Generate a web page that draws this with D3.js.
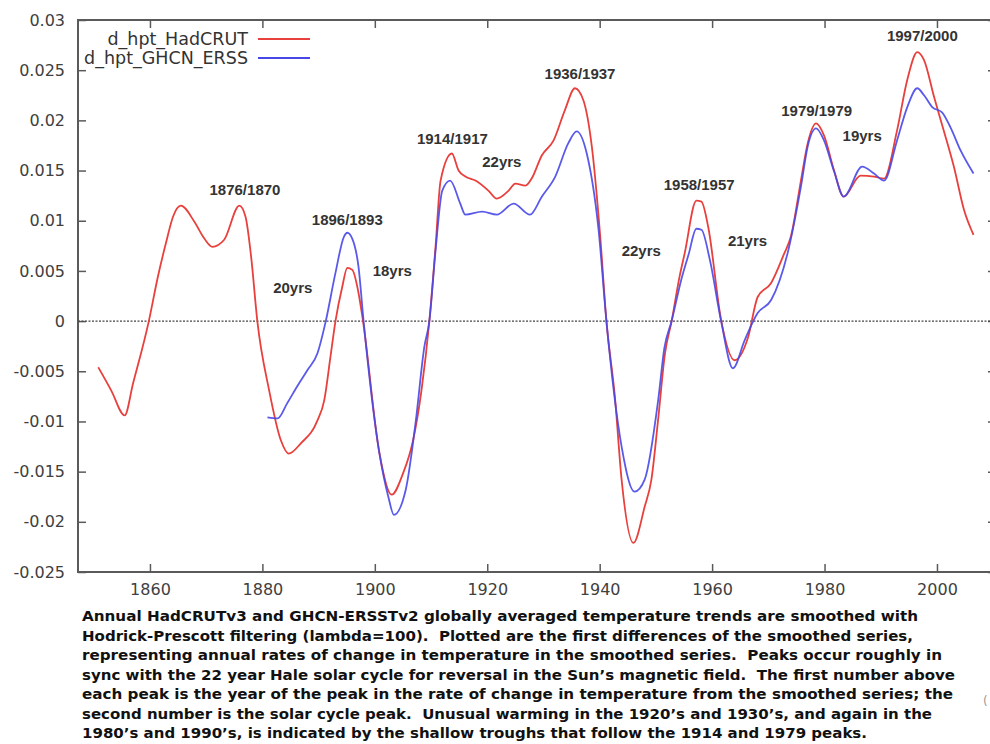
<!DOCTYPE html>
<html>
<head>
<meta charset="utf-8">
<script src="https://cdn.jsdelivr.net/npm/d3@7"></script>
<style>
  body { margin: 0; background: #fff; }
  svg { display: block; }
</style>
</head>
<body>
<div id="chart"></div>
<script>
// HadCRUT (red) - years and first-difference values
var hadYears = [1850.8, 1853.1, 1855.5, 1857.0, 1859.8, 1861.4, 1862.9, 1864.1, 1865.5, 1867.9, 1869.7, 1871.1,
  1873.2, 1875.9, 1877.0, 1878.0, 1879.1, 1881.2, 1883.3, 1884.7, 1886.8, 1889.8, 1891.0, 1892.1, 1893.0,
  1894.2, 1895.1, 1896.0, 1897.0, 1897.9, 1900.8, 1903.0, 1905.0, 1906.8, 1908.3, 1909.7, 1910.8, 1911.7,
  1913.7, 1914.9, 1916.1, 1917.9, 1920.2, 1921.7, 1923.8, 1925.0, 1926.8, 1927.9, 1929.7, 1931.8, 1933.8,
  1935.6, 1937.1, 1938.6, 1940.1, 1941.2, 1942.7, 1943.9, 1946.0, 1948.0, 1949.2, 1950.4, 1951.6, 1952.8,
  1954.2, 1955.1, 1957.2, 1958.1, 1959.3, 1961.6, 1964.0, 1966.4, 1968.1, 1970.5, 1972.8, 1974.0, 1975.8,
  1977.0, 1978.5, 1979.9, 1981.7, 1983.4, 1986.4, 1988.8, 1990.6, 1992.9, 1994.7, 1996.5, 1997.7, 1999.5,
  2001.2, 2003.0, 2004.8, 2006.5];
var hadValues = [-0.0046, -0.0069, -0.0094, -0.0062, 0.0, 0.0044, 0.0079, 0.0104, 0.0115, 0.0099, 0.0082, 0.0074,
  0.0081, 0.0115, 0.0104, 0.0064, 0.0, -0.0069, -0.0119, -0.0132, -0.0122, -0.0099, -0.0079, -0.0036, 0.0,
  0.0034, 0.0053, 0.0051, 0.0031, 0.0, -0.0131, -0.0173, -0.0152, -0.0119, -0.0069, 0.0, 0.0074, 0.0140,
  0.0167, 0.0150, 0.0144, 0.0140, 0.0130, 0.0122, 0.0130, 0.0137, 0.0135, 0.0142, 0.0165, 0.0180, 0.0210,
  0.0232, 0.0220, 0.0174, 0.0084, 0.0, -0.0075, -0.0158, -0.0221, -0.0185, -0.0158, -0.0098, -0.0033, 0.0,
  0.0044, 0.0067, 0.0120, 0.0119, 0.0094, 0.0001, -0.0039, -0.0016, 0.0024, 0.0038, 0.0067, 0.0084, 0.0140,
  0.0177, 0.0197, 0.0185, 0.0150, 0.0124, 0.0145, 0.0144, 0.0142, 0.0190, 0.0240, 0.0268, 0.0260, 0.0223,
  0.0190, 0.0154, 0.0111, 0.0086];

// GHCN-ERSST (blue)
var ghcnYears = [1880.9, 1882.7, 1884.4, 1886.2, 1888.0, 1889.8, 1891.2, 1893.0, 1894.5, 1895.1, 1896.0, 1897.1,
  1898.0, 1900.8, 1902.4, 1903.4, 1905.5, 1907.3, 1908.8, 1909.7, 1910.8, 1912.0, 1913.4, 1915.2, 1916.1,
  1919.1, 1921.7, 1924.7, 1927.6, 1929.7, 1932.1, 1934.4, 1935.9, 1937.7, 1939.8, 1941.2, 1943.9, 1946.2,
  1948.0, 1950.4, 1951.5, 1952.8, 1954.5, 1955.8, 1957.2, 1958.1, 1959.6, 1961.6, 1963.7, 1965.8, 1968.1,
  1970.5, 1973.4, 1975.8, 1977.0, 1978.5, 1979.9, 1981.7, 1983.4, 1986.7, 1988.8, 1990.6, 1992.9, 1994.7,
  1996.5, 1997.7, 1999.2, 2000.9, 2002.4, 2004.2, 2006.5];
var ghcnValues = [-0.0096, -0.0097, -0.0082, -0.0065, -0.0049, -0.0032, -0.0002, 0.0048, 0.0084, 0.0088, 0.0082, 0.0054,
  0.0, -0.0131, -0.0175, -0.0193, -0.0168, -0.0099, -0.0026, 0.0, 0.0070, 0.0130, 0.0140, 0.0117, 0.0106,
  0.0109, 0.0106, 0.0117, 0.0106, 0.0124, 0.0144, 0.0177, 0.0189, 0.0167, 0.0091, 0.0, -0.0125, -0.0170,
  -0.0158, -0.0079, -0.0027, 0.0, 0.0041, 0.0066, 0.0092, 0.0091, 0.0061, 0.0, -0.0047, -0.0019, 0.0008,
  0.0021, 0.0067, 0.0134, 0.0174, 0.0192, 0.0180, 0.0149, 0.0124, 0.0154, 0.0147, 0.0140, 0.0180, 0.0213,
  0.0232, 0.0225, 0.0213, 0.0208, 0.0193, 0.0170, 0.0147];

// peak / interval annotations (text, year, value)
var noteTexts = ['1876/1870', '1896/1893', '20yrs', '18yrs', '1914/1917', '22yrs', '1936/1937',
  '22yrs', '1958/1957', '21yrs', '1979/1979', '19yrs', '1997/2000'];
var noteYears = [1876.9, 1895.1, 1885.4, 1903.1, 1913.8, 1922.6, 1936.5, 1947.4, 1957.7, 1966.3, 1978.6, 1986.7, 1997.4];
var noteValues = [0.01256, 0.00957, 0.0028, 0.00449, 0.01764, 0.01535, 0.02412, 0.00648, 0.01306, 0.00748, 0.02043, 0.01794, 0.02791];

var xTicks = [1860, 1880, 1900, 1920, 1940, 1960, 1980, 2000];
var yTicks = [-0.025, -0.02, -0.015, -0.01, -0.005, 0, 0.005, 0.01, 0.015, 0.02, 0.025, 0.03];

var seriesNames = ['d_hpt_HadCRUT', 'd_hpt_GHCN_ERSS'];

var caption = [
  'Annual HadCRUTv3 and GHCN-ERSSTv2 globally averaged temperature trends are smoothed with',
  'Hodrick-Prescott filtering (lambda=100).  Plotted are the first differences of the smoothed series,',
  'representing annual rates of change in temperature in the smoothed series.  Peaks occur roughly in',
  'sync with the 22 year Hale solar cycle for reversal in the Sun\u2019s magnetic field.  The first number above',
  'each peak is the year of the peak in the rate of change in temperature from the smoothed series; the',
  'second number is the solar cycle peak.  Unusual warming in the 1920\u2019s and 1930\u2019s, and again in the',
  '1980\u2019s and 1990\u2019s, is indicated by the shallow troughs that follow the 1914 and 1979 peaks.'
];
var captionWidths = [836, 831, 860, 873, 871, 850, 785];

// layout
var svgWidth = 990;
var svgHeight = 744;
var plot = { left: 78, right: 996, top: 20, bottom: 572 };

var redColor = '#e8403c';
var blueColor = '#4848e8';
var frameColor = '#5a5a5a';
var textColor = '#404040';

var svg = d3.select('#chart').append('svg')
  .attr('width', svgWidth)
  .attr('height', svgHeight);

var x = d3.scaleLinear().domain([1847.2, 2010.5]).range([plot.left, plot.right]);
var y = d3.scaleLinear().domain([-0.025, 0.03]).range([plot.bottom, plot.top]);

var yFormat = function (d) { return d === 0 ? '0' : String(+d.toFixed(3)); };

// left axis (labels + inward ticks)
var leftAxis = svg.append('g')
  .attr('transform', `translate(${plot.left},0)`)
  .call(d3.axisLeft(y).tickValues(yTicks).tickSize(-8).tickPadding(13).tickFormat(yFormat));

// right axis (ticks only)
var rightAxis = svg.append('g')
  .attr('transform', `translate(${plot.right},0)`)
  .call(d3.axisRight(y).tickValues(yTicks).tickSize(-8).tickFormat(''));

// bottom axis
var bottomAxis = svg.append('g')
  .attr('transform', `translate(0,${plot.bottom})`)
  .call(d3.axisBottom(x).tickValues(xTicks).tickSize(-8).tickPadding(12).tickFormat(d3.format('d')));

// top axis (ticks only)
var topAxis = svg.append('g')
  .attr('transform', `translate(0,${plot.top})`)
  .call(d3.axisTop(x).tickValues(xTicks).tickSize(-8).tickFormat(''));

svg.selectAll('.domain').remove();
svg.selectAll('.tick line').attr('stroke', frameColor).attr('stroke-width', 1.5);
svg.selectAll('.tick text')
  .attr('fill', textColor)
  .style('font-family', '"DejaVu Sans", sans-serif')
  .style('font-size', '16px');

// frame
svg.append('rect')
  .attr('x', plot.left)
  .attr('y', plot.top)
  .attr('width', plot.right - plot.left)
  .attr('height', plot.bottom - plot.top)
  .attr('fill', 'none')
  .attr('stroke', frameColor)
  .attr('stroke-width', 2);

// zero line
svg.append('line')
  .attr('x1', plot.left)
  .attr('x2', plot.right)
  .attr('y1', y(0))
  .attr('y2', y(0))
  .attr('stroke', '#444')
  .attr('stroke-width', 1.2)
  .attr('stroke-dasharray', '2,1.5');

// series lines
var line = d3.line()
  .x(d => x(d[0]))
  .y(d => y(d[1]))
  .curve(d3.curveMonotoneX);

var hadData = hadYears.map((yr, i) => [yr, hadValues[i]]);
var ghcnData = ghcnYears.map((yr, i) => [yr, ghcnValues[i]]);

svg.append('path')
  .datum(hadData)
  .attr('d', line)
  .attr('fill', 'none')
  .attr('stroke', redColor)
  .attr('stroke-width', 1.8)
  .attr('stroke-linejoin', 'round');

svg.append('path')
  .datum(ghcnData)
  .attr('d', line)
  .attr('fill', 'none')
  .attr('stroke', blueColor)
  .attr('stroke-width', 1.8)
  .attr('stroke-opacity', 0.9)
  .attr('stroke-linejoin', 'round');

// legend
var legendColors = [redColor, blueColor];
var legendBaselines = [45, 64];
var legend = svg.append('g');
seriesNames.forEach(function (name, i) {
  legend.append('text')
    .attr('x', 248)
    .attr('y', legendBaselines[i])
    .attr('text-anchor', 'end')
    .attr('fill', '#333')
    .style('font-family', '"DejaVu Sans", sans-serif')
    .style('font-size', '17.5px')
    .text(name);
  legend.append('line')
    .attr('x1', 258)
    .attr('x2', 310)
    .attr('y1', legendBaselines[i] - 6)
    .attr('y2', legendBaselines[i] - 6)
    .attr('stroke', legendColors[i])
    .attr('stroke-width', 1.8);
});

// annotations
svg.append('g').selectAll('text')
  .data(noteTexts)
  .enter()
  .append('text')
  .attr('x', (d, i) => x(noteYears[i]))
  .attr('y', (d, i) => y(noteValues[i]))
  .attr('text-anchor', 'middle')
  .attr('fill', '#333')
  .style('font-family', '"Liberation Sans", Arial, sans-serif')
  .style('font-weight', 'bold')
  .style('font-size', '15px')
  .text(d => d);

// caption
svg.append('g').selectAll('text')
  .data(caption)
  .enter()
  .append('text')
  .attr('x', 82)
  .attr('y', (d, i) => 621 + i * 19.5)
  .attr('textLength', (d, i) => captionWidths[i])
  .attr('lengthAdjust', 'spacingAndGlyphs')
  .attr('fill', '#111')
  .style('white-space', 'pre')
  .style('font-family', '"DejaVu Sans", Verdana, sans-serif')
  .style('font-weight', 'bold')
  .style('font-size', '13.5px')
  .text(d => d);

// cropped glyph at the right edge
svg.append('text')
  .attr('x', 983)
  .attr('y', 705)
  .attr('fill', '#999')
  .style('font-family', '"DejaVu Sans", sans-serif')
  .style('font-size', '12px')
  .text('(');
</script>
</body>
</html>
